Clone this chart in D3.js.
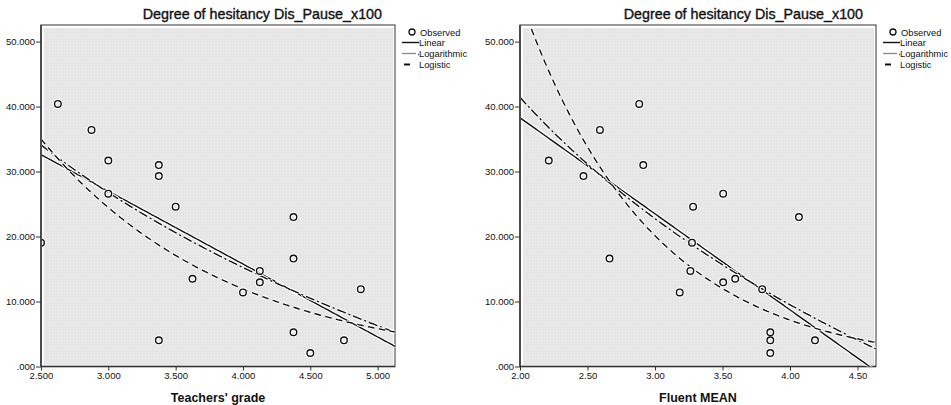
<!DOCTYPE html>
<html>
<head>
<meta charset="utf-8">
<script src="https://cdn.jsdelivr.net/npm/d3@7"></script>
<style>
  body { margin: 0; background: #fff; }
  svg text { font-family: "Liberation Sans", Arial, sans-serif; fill: #111; }
</style>
</head>
<body>
<div id="chart"></div>
<script>
// observed values (same y for both panels)
var hesitancy = [40.4, 36.4, 31.7, 31.0, 29.3, 26.6, 24.6, 23.0, 19.05, 16.6,
                 14.7, 13.5, 12.95, 11.4, 11.9, 5.26, 4.03, 4.03, 2.08]
var teachersGrade = [2.625, 2.875, 3.0, 3.375, 3.375, 3.0, 3.5, 4.375, 2.5, 4.375,
                     4.125, 3.625, 4.125, 4.0, 4.875, 4.375, 3.375, 4.75, 4.5]
var fluentMean = [2.883, 2.592, 2.213, 2.913, 2.47, 3.505, 3.282, 4.066, 3.274, 2.663,
                  3.262, 3.594, 3.505, 3.183, 3.794, 3.854, 3.854, 4.185, 3.854]

var yTicks = [0, 10, 20, 30, 40, 50]
var teacherTicks = [2.5, 3.0, 3.5, 4.0, 4.5, 5.0]
var fluentTicks = [2.0, 2.5, 3.0, 3.5, 4.0, 4.5]
var legendItems = ["Observed", "Linear", "Logarithmic", "Logistic"]
var chartTitle = "Degree of hesitancy Dis_Pause_x100"

var W = 951, H = 405

var svg = d3.select("#chart").append("svg")
    .attr("width", W)
    .attr("height", H)

var defs = svg.append("defs")
var pat = defs.append("pattern")
    .attr("id", "dots")
    .attr("width", 3).attr("height", 3)
    .attr("patternUnits", "userSpaceOnUse")
pat.append("rect").attr("width", 3).attr("height", 3).attr("fill", "#e6e6e6")
pat.append("rect").attr("x", 1).attr("y", 1).attr("width", 1).attr("height", 1)
    .attr("fill", "#fff").attr("opacity", 0.35)

// least squares helper
function ols(xs, ys) {
    var mx = d3.mean(xs), my = d3.mean(ys)
    var sxy = d3.sum(xs, function(x, i) { return (x - mx) * (ys[i] - my) })
    var sxx = d3.sum(xs, function(x) { return (x - mx) * (x - mx) })
    var b = sxy / sxx
    return [my - b * mx, b]
}

function drawPanel(opts) {
    var left = opts.left, right = opts.right, top = 25, bottom = 366.5
    var g = svg.append("g")

    var x = d3.scaleLinear().domain(opts.xDomain).range([left, right])
    var y = d3.scaleLinear().domain([0, 52.55]).range([bottom, top])

    var clipId = "clip" + opts.id
    defs.append("clipPath").attr("id", clipId)
        .append("rect")
        .attr("x", left + 1).attr("y", top + 1)
        .attr("width", right - left - 1).attr("height", bottom - top - 1)

    g.append("rect")
        .attr("x", left).attr("y", top)
        .attr("width", right - left).attr("height", bottom - top)
        .attr("fill", "#fff")
        .attr("stroke", "#555")
        .attr("stroke-width", 1.2)
    g.append("rect")
        .attr("x", left + 3).attr("y", top + 3)
        .attr("width", right - left - 5).attr("height", bottom - top - 4)
        .attr("fill", "url(#dots)")

    // axes
    var yAxis = d3.axisLeft(y).tickValues(yTicks).tickSize(5).tickPadding(1)
        .tickFormat(function(d) { return d === 0 ? ".000" : d3.format(".3f")(d) })
    var xAxis = d3.axisBottom(x).tickValues(opts.ticks).tickSize(4).tickPadding(2)
        .tickFormat(d3.format(opts.fmt))

    var ya = g.append("g").attr("transform", "translate(" + left + ",0)").call(yAxis)
    var xa = g.append("g").attr("transform", "translate(0," + bottom + ")").call(xAxis)
    ;[ya, xa].forEach(function(a) {
        a.select(".domain").attr("stroke", "#333").attr("stroke-width", 1.5)
        a.selectAll(".tick line").attr("stroke", "#333")
        a.selectAll(".tick text").attr("font-size", 9.5).attr("fill", "#222")
            .attr("font-family", "Liberation Sans, Arial, sans-serif")
    })
    ya.select(".domain").attr("d", "M0," + top + "V" + bottom)
    xa.select(".domain").attr("d", "M" + left + ",0H" + right)

    // fits
    var xs = opts.xs
    var lin = ols(xs, hesitancy)
    var lg = ols(xs.map(Math.log), hesitancy)
    var lgt = ols(xs, hesitancy.map(Math.log))
    var grid = d3.range(0, 201).map(function(i) {
        return opts.xDomain[0] + (opts.xDomain[1] - opts.xDomain[0]) * i / 200
    })
    var fits = [
        { f: function(v) { return lin[0] + lin[1] * v }, dash: null },
        { f: function(v) { return lg[0] + lg[1] * Math.log(v) }, dash: "9,3,2,3" },
        { f: function(v) { return Math.exp(lgt[0] + lgt[1] * v) }, dash: "6.5,4.5" }
    ]
    var line = d3.line()
        .x(function(d) { return x(d[0]) })
        .y(function(d) { return y(d[1]) })

    var plot = g.append("g").attr("clip-path", "url(#" + clipId + ")")
    fits.forEach(function(fit) {
        var pts = grid.map(function(v) { return [v, fit.f(v)] })
        plot.append("path").attr("d", line(pts))
            .attr("fill", "none").attr("stroke", "#fff").attr("stroke-width", 3.6)
            .attr("stroke-dasharray", fit.dash)
        plot.append("path").attr("d", line(pts))
            .attr("fill", "none").attr("stroke", "#111").attr("stroke-width", 1.4)
            .attr("stroke-dasharray", fit.dash)
    })

    var pts = xs.map(function(v, i) { return [v, hesitancy[i]] })
    plot.selectAll("circle.halo").data(pts).enter().append("circle")
        .attr("cx", function(d) { return x(d[0]) })
        .attr("cy", function(d) { return y(d[1]) })
        .attr("r", 3.3).attr("fill", "none")
        .attr("stroke", "#fff").attr("stroke-width", 3.4)
    plot.selectAll("circle.obs").data(pts).enter().append("circle")
        .attr("cx", function(d) { return x(d[0]) })
        .attr("cy", function(d) { return y(d[1]) })
        .attr("r", 3.3).attr("fill", "none")
        .attr("stroke", "#111").attr("stroke-width", 1.4)

    // titles
    g.append("text").attr("x", right - 13).attr("y", 19)
        .attr("text-anchor", "end").attr("font-size", 14.3)
        .attr("stroke", "#111").attr("stroke-width", 0.35)
        .text(chartTitle)
    g.append("text").attr("x", (left + right) / 2).attr("y", 402)
        .attr("text-anchor", "middle").attr("font-size", 12.5).attr("font-weight", "bold")
        .text(opts.xLabel)

    // legend
    var lx = right + 7, ly = [32, 42.5, 53.5, 64.5]
    var lgd = g.append("g")
    lgd.append("circle").attr("cx", lx + 10).attr("cy", ly[0]).attr("r", 3)
        .attr("fill", "none").attr("stroke", "#111").attr("stroke-width", 1.3)
    lgd.append("line").attr("x1", lx).attr("x2", lx + 17).attr("y1", ly[1]).attr("y2", ly[1])
        .attr("stroke", "#111").attr("stroke-width", 1.4)
    lgd.append("line").attr("x1", lx).attr("x2", lx + 14).attr("y1", ly[2]).attr("y2", ly[2])
        .attr("stroke", "#888").attr("stroke-width", 1.3)
    lgd.append("line").attr("x1", lx + 16).attr("x2", lx + 17).attr("y1", ly[2] + 1).attr("y2", ly[2] + 1)
        .attr("stroke", "#555").attr("stroke-width", 1.3)
    lgd.append("line").attr("x1", lx + 2).attr("x2", lx + 8).attr("y1", ly[3]).attr("y2", ly[3])
        .attr("stroke", "#111").attr("stroke-width", 2)
    lgd.selectAll("text").data(legendItems).enter().append("text")
        .attr("x", function(d, i) { return i === 0 ? lx + 18 : lx + 17 })
        .attr("y", function(d, i) { return ly[i] + 3.5 })
        .attr("font-size", 9.3).attr("fill", "#222")
        .text(function(d) { return d })
}

drawPanel({ id: "a", left: 41, right: 395, xDomain: [2.5, 5.129], ticks: teacherTicks,
            fmt: ".3f", xs: teachersGrade, xLabel: "Teachers' grade" })
drawPanel({ id: "b", left: 520, right: 876, xDomain: [2.0, 4.637], ticks: fluentTicks,
            fmt: ".2f", xs: fluentMean, xLabel: "Fluent MEAN" })
</script>
</body>
</html>
